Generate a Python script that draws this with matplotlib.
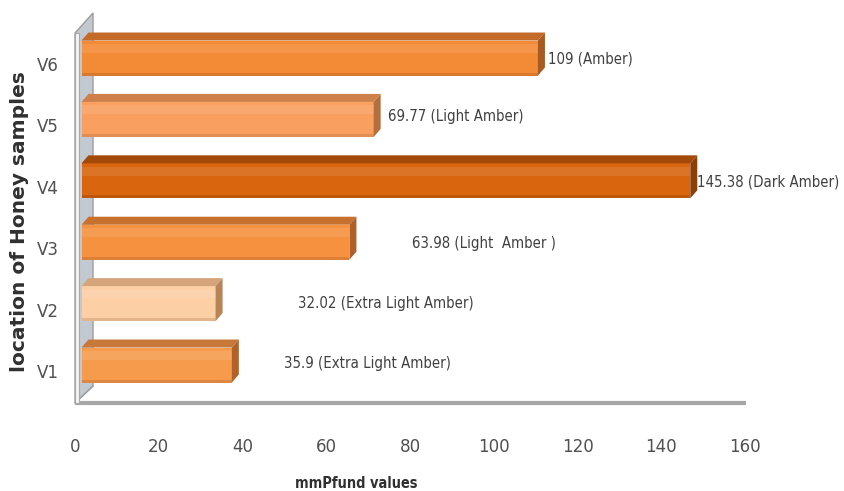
import matplotlib
matplotlib.use("Agg")
import matplotlib.pyplot as plt
from matplotlib import font_manager
from matplotlib.patches import Polygon, Rectangle

# data
samples = ["V1", "V2", "V3", "V4", "V5", "V6"]
mmpfund = [35.9, 32.02, 63.98, 145.38, 69.77, 109]
labels = ["35.9 (Extra Light Amber)", "32.02 (Extra Light Amber)", "63.98 (Light  Amber )",
          "145.38 (Dark Amber)", "69.77 (Light Amber)", "109 (Amber)"]
front_colors = ["#F69B4C", "#FCCFA5", "#F6913F", "#D9650F", "#F9A060", "#F38A35"]
top_colors = ["#C87838", "#D6A47A", "#C8702E", "#A44A08", "#CF8048", "#C46A28"]
side_colors = ["#B0622A", "#B88558", "#B0602A", "#8C3F06", "#B56E3E", "#A85A20"]
xticks = [0, 20, 40, 60, 80, 100, 120, 140, 160]

# pick a narrow face (Calibri-like look) if one is installed
fonts = font_manager.fontManager.ttflist
names = {f.name for f in fonts}
if "Liberation Sans Narrow" in names:
    narrow = dict(family=["Liberation Sans Narrow", "DejaVu Sans"])
    nscale = 1.0
elif any(f.name == "DejaVu Sans" and f.stretch == "condensed" for f in fonts):
    narrow = dict(family=["DejaVu Sans"], stretch="condensed")
    nscale = 0.95
else:
    narrow = dict(family=["Liberation Sans", "DejaVu Sans"])
    nscale = 0.9

txt = "#404040"

W, H = 844, 491
fig = plt.figure(figsize=(W / 100, H / 100), dpi=100)
# axes box in pixels: x 75..745, y 13..403 (from top)
ax = fig.add_axes([75 / W, (H - 403) / H, 670 / W, 390 / H])
ylo, yhi = -0.521, 5.831
ax.set_xlim(0, 160)
ax.set_ylim(ylo, yhi)
for s in ax.spines.values():
    s.set_visible(False)

sx = 160 / 670.0           # data per pixel, x
sy = (yhi - ylo) / 390.0   # data per pixel, y

# left wall and floor edge
wd, wh = 18 * sx, 17 * sy
ytop_front = yhi - 20 * sy
wall = Polygon([(0, ylo), (0, ytop_front), (wd, yhi), (wd, ylo + wh)], closed=True,
               facecolor="#C3C9D0", edgecolor="#9C9C9C", lw=1, clip_on=False, zorder=1)
ax.add_patch(wall)
ax.add_patch(Rectangle((0, ylo), 4 * sx, ytop_front - ylo, facecolor="#F4F4F4",
                       edgecolor="#A8A8A8", lw=0.8, clip_on=False, zorder=1.5))
ax.plot([0, 160.3], [ylo, ylo], color="#A6A6A6", lw=3, solid_capstyle="butt",
        clip_on=False, zorder=1)
ax.plot([0, wd], [ylo, ylo + wh], color="#A0A0A0", lw=1, clip_on=False, zorder=1)

# 3d-look bars
ox, oy = 6.5 * sx, 6 * sy
bdx, bdy = 7 * sx, 8 * sy
h = 35 * sy
for i, v in enumerate(mmpfund):
    yc = i + oy
    y0, y1 = yc - h / 2, yc + h / 2
    x0, x1 = ox, ox + v
    ax.add_patch(Rectangle((x0, y0), v, h, facecolor=front_colors[i], edgecolor="none",
                           zorder=3, clip_on=False))
    # soft highlight band and darker lower rim, like the original's shading
    ax.add_patch(Rectangle((x0, y1 - h * 0.35), v, h * 0.25, facecolor="white",
                           alpha=0.10, edgecolor="none", zorder=3.1, clip_on=False))
    ax.add_patch(Rectangle((x0, y0), v, 3 * sy, facecolor=side_colors[i],
                           alpha=0.35, edgecolor="none", zorder=3.1, clip_on=False))
    ax.add_patch(Polygon([(x0, y1), (x1, y1), (x1 + bdx, y1 + bdy), (x0 + bdx, y1 + bdy)],
                         closed=True, facecolor=top_colors[i], edgecolor="none",
                         zorder=3, clip_on=False))
    ax.add_patch(Polygon([(x1, y0), (x1 + bdx, y0 + bdy), (x1 + bdx, y1 + bdy), (x1, y1)],
                         closed=True, facecolor=side_colors[i], edgecolor="none",
                         zorder=3, clip_on=False))

# value labels (placed where the original put them)
label_x = [49.9, 53.3, 80.5, 148.5, 74.7, 113]
label_dy = [0.03, 0.0, -0.02, -0.02, 0.05, -0.02]
for i, t in enumerate(labels):
    ax.text(label_x[i], i + oy + label_dy[i], t, ha="left", va="center",
            fontsize=11.3 * nscale, color=txt, zorder=4, **narrow)

ax.set_xticks(xticks)
ax.set_xticklabels([str(t) for t in xticks], fontsize=14 * nscale, color="#505050", **narrow)
ax.set_yticks(range(len(samples)))
ax.set_yticklabels(samples, fontsize=14 * nscale, color="#505050", **narrow)
ax.tick_params(axis="x", length=0, pad=25)
ax.tick_params(axis="y", length=0, pad=11.5)

fig.text(20 / W, 1 - 222 / H, "location of Honey samples", rotation=90, ha="center",
         va="center", fontsize=14.5, fontweight="bold", color="#303030")
fig.text(356 / W, 1 - 476 / H, "mmPfund values", ha="center", va="top",
         fontsize=11 * nscale, fontweight="bold", color="#303030", **narrow)

fig.savefig("out.png", dpi=100)
